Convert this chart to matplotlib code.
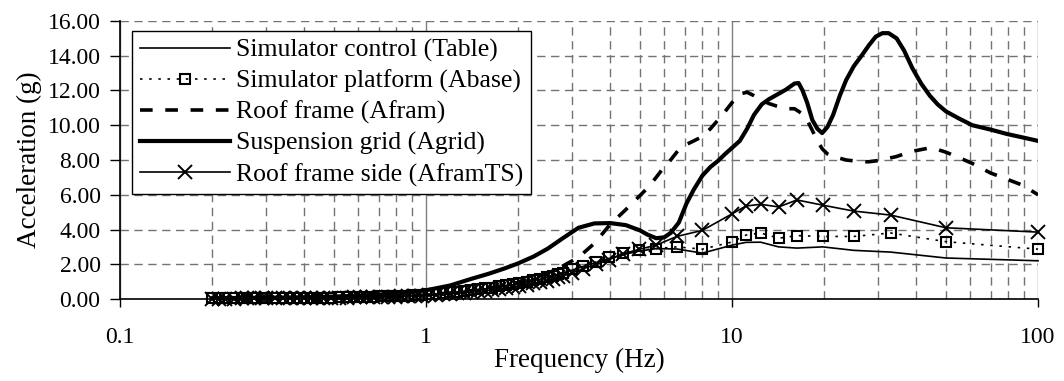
import matplotlib
matplotlib.use('Agg')
import matplotlib.pyplot as plt
from matplotlib.ticker import LogLocator, NullFormatter, FixedLocator, FixedFormatter

plt.rcParams['font.family'] = ['Liberation Serif', 'DejaVu Serif']
plt.rcParams['font.size'] = 17

# frequencies of the marked series (Hz)
freq_m = [0.2, 0.21, 0.22, 0.235, 0.25, 0.26, 0.275, 0.29, 0.3, 0.32,
          0.34, 0.36, 0.38, 0.4, 0.42, 0.44, 0.46, 0.49, 0.52, 0.55,
          0.58, 0.61, 0.64, 0.67, 0.71, 0.75, 0.79, 0.83, 0.87, 0.92,
          0.97, 1.02, 1.08, 1.14, 1.2, 1.26, 1.33, 1.4, 1.48, 1.56,
          1.64, 1.73, 1.82, 1.92, 2.02, 2.13, 2.24, 2.36, 2.48, 2.6,
          2.7, 2.8, 3.0, 3.27, 3.6, 3.95, 4.4, 4.95, 5.65, 6.6,
          8.0, 10.0, 11.1, 12.4, 14.2, 16.3, 19.8, 25.0, 33.0, 50.0,
          100.0]

table = [0.02, 0.02, 0.02, 0.03, 0.03, 0.03, 0.03, 0.04, 0.04, 0.04,
         0.05, 0.05, 0.05, 0.06, 0.06, 0.07, 0.07, 0.08, 0.08, 0.09,
         0.1, 0.11, 0.12, 0.13, 0.14, 0.15, 0.16, 0.17, 0.19, 0.21,
         0.23, 0.25, 0.28, 0.32, 0.36, 0.4, 0.45, 0.49, 0.54, 0.59,
         0.64, 0.7, 0.76, 0.82, 0.9, 0.98, 1.06, 1.14, 1.23, 1.33,
         1.42, 1.5, 1.66, 1.88, 2.1, 2.33, 2.55, 2.75, 2.9, 2.88,
         2.64, 3.1, 3.26, 3.27, 3.0, 2.93, 3.0, 2.8, 2.7, 2.36,
         2.2]

abase = [0.03, 0.03, 0.03, 0.03, 0.04, 0.04, 0.04, 0.04, 0.05, 0.05,
         0.05, 0.06, 0.06, 0.06, 0.07, 0.07, 0.08, 0.08, 0.09, 0.1,
         0.11, 0.12, 0.13, 0.14, 0.15, 0.16, 0.17, 0.18, 0.2, 0.22,
         0.24, 0.26, 0.3, 0.34, 0.38, 0.42, 0.47, 0.51, 0.56, 0.61,
         0.66, 0.72, 0.78, 0.84, 0.92, 1.0, 1.08, 1.16, 1.25, 1.35,
         1.44, 1.52, 1.7, 1.92, 2.15, 2.4, 2.62, 2.8, 2.9, 3.0,
         2.87, 3.28, 3.68, 3.8, 3.5, 3.65, 3.6, 3.6, 3.8, 3.3,
         2.87]

aframts = [0.02, 0.02, 0.02, 0.02, 0.03, 0.03, 0.03, 0.03, 0.04, 0.04,
           0.04, 0.05, 0.05, 0.05, 0.06, 0.06, 0.06, 0.07, 0.07, 0.08,
           0.09, 0.1, 0.1, 0.11, 0.12, 0.13, 0.14, 0.15, 0.16, 0.18,
           0.19, 0.21, 0.23, 0.26, 0.29, 0.32, 0.36, 0.4, 0.44, 0.48,
           0.53, 0.58, 0.63, 0.69, 0.76, 0.83, 0.9, 0.98, 1.06, 1.15,
           1.24, 1.32, 1.5, 1.75, 2.0, 2.25, 2.6, 2.85, 3.1, 3.6,
           3.95, 4.9, 5.35, 5.45, 5.3, 5.7, 5.4, 5.06, 4.83, 4.1,
           3.85]

# frequencies of the smooth series (Hz)
freq_s = [0.2, 0.3, 0.4, 0.5, 0.6, 0.7, 0.8, 0.9, 1.0, 1.2,
          1.4, 1.6, 1.8, 2.0, 2.25, 2.5, 2.8, 3.15, 3.55, 4.0,
          4.5, 5.0, 5.3, 5.65, 6.0, 6.3, 6.7, 7.1, 7.5, 8.0,
          8.5, 9.0, 9.5, 10.0, 10.6, 11.2, 11.8, 12.5, 13.2, 14.0,
          15.0, 16.0, 16.5, 17.0, 17.6, 18.3, 19.0, 19.7, 20.5, 21.4,
          22.5, 23.6, 25.0, 26.5, 28.0, 29.5, 31.0, 32.5, 34.5, 36.5,
          38.8, 41.5, 44.3, 47.0, 50.0, 55.0, 61.0, 70.0, 79.0, 89.0,
          100.0]

afram = [0.02, 0.03, 0.05, 0.07, 0.09, 0.12, 0.15, 0.19, 0.23, 0.35,
         0.48, 0.62, 0.78, 0.95, 1.2, 1.5, 1.9, 2.4, 3.2, 4.3,
         5.15, 5.95, 6.4, 7.0, 7.6, 8.0, 8.6, 8.9, 9.1, 9.35,
         9.8, 10.3, 10.8, 11.3, 11.8, 11.9, 11.7, 11.45, 11.25, 11.1,
         10.95, 10.95, 10.8, 10.65, 10.3, 9.7, 9.1, 8.65, 8.35, 8.2,
         8.1, 8.0, 7.95, 7.9, 7.9, 7.95, 8.0, 8.1, 8.2, 8.35,
         8.5, 8.6, 8.7, 8.6, 8.45, 8.15, 7.8, 7.25, 6.9, 6.55,
         6.0]

agrid = [0.05, 0.07, 0.1, 0.14, 0.19, 0.25, 0.32, 0.4, 0.5, 0.78,
         1.15, 1.45, 1.75, 2.05, 2.45, 2.9, 3.5, 4.1, 4.35, 4.37,
         4.25, 3.95, 3.7, 3.5, 3.55, 3.8, 4.4, 5.5, 6.3, 7.1,
         7.6, 7.95, 8.35, 8.7, 9.1, 9.8, 10.6, 11.2, 11.5, 11.75,
         12.05, 12.4, 12.43, 12.0, 11.3, 10.3, 9.8, 9.55, 9.9, 10.6,
         11.7, 12.6, 13.4, 14.0, 14.6, 15.1, 15.3, 15.3, 15.0, 14.3,
         13.3, 12.4, 11.7, 11.2, 10.8, 10.4, 10.0, 9.75, 9.5, 9.3,
         9.1]

y_ticks = [0, 2, 4, 6, 8, 10, 12, 14, 16]
x_ticks = [0.1, 1, 10, 100]
x_labels = ['0.1', '1', '10', '100']

fig = plt.figure(figsize=(10.64, 3.81), dpi=100)
ax = fig.add_axes([0.1128, 0.2152, 0.8628, 0.7297])

ax.plot(freq_m, table, color='black', lw=1.2, clip_on=False,
        label='Simulator control (Table)')
ax.plot(freq_m, abase, color='black', lw=1.2, ls=(0, (1.5, 4)), marker='s',
        ms=7.5, mfc='none', mec='black', mew=1.5, clip_on=False,
        label='Simulator platform (Abase)')
ax.plot(freq_s, afram, color='black', lw=2.6, ls=(0, (3.5, 3.5)), label='Roof frame (Afram)')
ax.plot(freq_s, agrid, color='black', lw=3.0, label='Suspension grid (Agrid)')
ax.plot(freq_m, aframts, color='black', lw=1.2, marker='x', ms=10, mew=1.4,
        clip_on=False, label='Roof frame side (AframTS)')

ax.set_xscale('log')
ax.set_xlim(0.1, 100)
ax.set_ylim(0, 16)
ax.xaxis.set_major_locator(FixedLocator(x_ticks))
ax.xaxis.set_major_formatter(FixedFormatter(x_labels))
ax.xaxis.set_minor_locator(LogLocator(base=10, subs=[2, 3, 4, 5, 6, 7, 8, 9]))
ax.xaxis.set_minor_formatter(NullFormatter())
ax.set_yticks(y_ticks)
ax.set_yticklabels(['%.2f' % v for v in y_ticks])

ax.grid(which='major', axis='y', color='0.45', ls=(0, (6, 4)), lw=1)
ax.grid(which='minor', axis='x', color='0.45', ls=(0, (6, 4)), lw=1)
ax.grid(which='major', axis='x', color='0.5', ls='-', lw=1)
ax.set_axisbelow(True)

ax.spines['top'].set_visible(False)
ax.spines['right'].set_visible(False)
ax.spines['left'].set_linewidth(1.2)
ax.spines['bottom'].set_linewidth(1.2)
ax.tick_params(axis='y', which='major', direction='out', length=7, width=1, pad=7)
ax.tick_params(axis='x', which='major', direction='out', length=6, width=1, pad=14)
ax.tick_params(axis='x', which='minor', length=0)

ax.set_xlabel('Frequency (Hz)', fontsize=19.5, labelpad=0)
ax.set_ylabel('Acceleration (g)', fontsize=19.5, labelpad=4)

leg = ax.legend(loc='upper left', bbox_to_anchor=(0.013, 0.964), borderaxespad=0,
                fancybox=False, framealpha=1, edgecolor='black', fontsize=18.5,
                handlelength=3.5, handletextpad=0.25, labelspacing=0.3,
                borderpad=0.3)
leg.get_frame().set_linewidth(1)

fig.savefig('out.png', dpi=100)
